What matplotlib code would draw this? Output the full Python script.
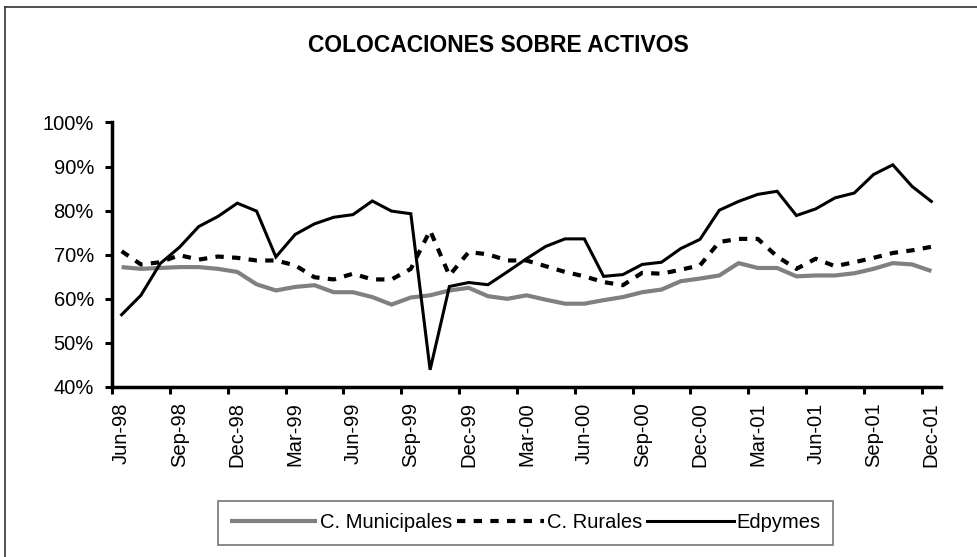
import matplotlib
matplotlib.use("Agg")
import matplotlib.pyplot as plt
from matplotlib.lines import Line2D
import numpy as np

plt.rcParams['font.family'] = ['Liberation Sans', 'DejaVu Sans']

months = ["Jun-98", "Jul-98", "Aug-98", "Sep-98", "Oct-98", "Nov-98", "Dec-98",
          "Jan-99", "Feb-99", "Mar-99", "Apr-99", "May-99", "Jun-99", "Jul-99",
          "Aug-99", "Sep-99", "Oct-99", "Nov-99", "Dec-99", "Jan-00", "Feb-00",
          "Mar-00", "Apr-00", "May-00", "Jun-00", "Jul-00", "Aug-00", "Sep-00",
          "Oct-00", "Nov-00", "Dec-00", "Jan-01", "Feb-01", "Mar-01", "Apr-01",
          "May-01", "Jun-01", "Jul-01", "Aug-01", "Sep-01", "Oct-01", "Nov-01",
          "Dec-01"]

municipales = [67.2, 66.8, 67.0, 67.2, 67.2, 66.8, 66.1, 63.3, 61.9, 62.7, 63.1,
               61.5, 61.5, 60.4, 58.7, 60.3, 60.8, 61.9, 62.5, 60.6, 60.0, 60.8,
               59.8, 58.9, 58.9, 59.7, 60.4, 61.5, 62.1, 64.0, 64.6, 65.3, 68.1,
               67.0, 67.0, 65.1, 65.3, 65.3, 65.8, 66.8, 68.1, 67.8, 66.3]

rurales = [70.8, 67.8, 68.3, 69.9, 68.9, 69.6, 69.3, 68.7, 68.7, 67.6, 64.9,
           64.4, 65.7, 64.4, 64.4, 66.8, 75.5, 65.3, 70.6, 70.1, 68.7, 68.7,
           67.4, 66.1, 65.1, 63.8, 63.1, 65.9, 65.7, 66.6, 67.6, 72.9, 73.6,
           73.6, 69.6, 66.8, 69.1, 67.4, 68.3, 69.3, 70.4, 71.0, 71.8]

edpymes = [56.4, 60.8, 68.0, 71.7, 76.4, 78.7, 81.7, 79.9, 69.5, 74.6, 77.0,
           78.5, 79.1, 82.2, 79.9, 79.3, 43.9, 62.8, 63.7, 63.2, 66.1, 69.1,
           71.9, 73.6, 73.6, 65.1, 65.5, 67.8, 68.3, 71.4, 73.5, 80.1, 82.1,
           83.7, 84.4, 78.9, 80.4, 82.9, 84.0, 88.2, 90.4, 85.5, 82.1]

series_names = ["C. Municipales", "C. Rurales", "Edpymes"]
y_ticks = [40, 50, 60, 70, 80, 90, 100]
title = "COLOCACIONES SOBRE ACTIVOS"

W, H = 978, 557
fig = plt.figure(figsize=(W / 100, H / 100), dpi=100)
ax = fig.add_axes([112 / W, 1 - 387 / H, (941 - 112) / W, (387 - 122.5) / H])

x = np.arange(len(months))
ax.plot(x, municipales, color="#808080", lw=3.0, label=series_names[0],
        solid_capstyle="butt")
ax.plot(x, rurales, color="black", lw=3.0, dashes=(2, 2),
        dash_capstyle="butt", label=series_names[1])
ax.plot(x, edpymes, color="black", lw=2.2, label=series_names[2],
        solid_joinstyle="miter")

ax.set_xlim(-0.5, len(months) - 0.5)
ax.set_ylim(40, 100)
ax.set_yticks(y_ticks)
ax.set_yticklabels([f"{v}%" for v in y_ticks])

label_pos = x[::3]
ax.set_xticks(label_pos)
ax.set_xticklabels([months[i] for i in label_pos], rotation=90)
ax.set_xticks(np.arange(-0.5, len(months) - 1, 3), minor=True)
ax.tick_params(axis="x", which="major", length=0, pad=11, labelsize=14.5)
ax.tick_params(axis="x", which="minor", length=5, width=2.2, direction="out")
ax.tick_params(axis="y", length=5, width=2.2, pad=8, labelsize=14.5)

for s in ["top", "right"]:
    ax.spines[s].set_visible(False)
for s in ["left", "bottom"]:
    ax.spines[s].set_linewidth(2.5)

fig.text(498 / W, 1 - 45 / H, title, ha="center", va="center",
         fontsize=16.5, fontweight="bold")

leg = fig.legend(loc="center", bbox_to_anchor=(525.7 / W, 1 - 523 / H), ncol=3,
                 fontsize=14.5, frameon=True, fancybox=False, handlelength=4.3,
                 handletextpad=0.15, columnspacing=0.25, borderpad=0.6,
                 borderaxespad=0)
leg.get_frame().set_edgecolor("#555555")
leg.get_frame().set_linewidth(1.2)

# outer chart-area frame (left and top edges visible)
fig.add_artist(Line2D([5 / W, 5 / W], [0, 1 - 7 / H], transform=fig.transFigure,
                      color="#333333", lw=1.2))
fig.add_artist(Line2D([5 / W, 1], [1 - 7 / H, 1 - 7 / H], transform=fig.transFigure,
                      color="#333333", lw=1.2))

fig.savefig("out.png", dpi=100)
